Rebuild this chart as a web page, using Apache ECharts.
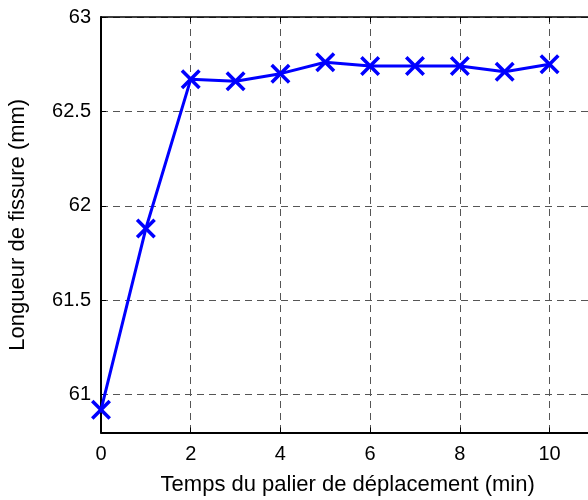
<!DOCTYPE html>
<html><head><meta charset="utf-8">
<script src="https://cdn.jsdelivr.net/npm/echarts@6/dist/echarts.min.js"></script>
<style>html,body{margin:0;padding:0;background:#fff}#c{width:588px;height:500px}</style>
</head><body><div id="c"></div>
<script>
const times = [0, 1, 2, 3, 4, 5, 6, 7, 8, 9, 10];
const lengths = [60.92, 61.88, 62.67, 62.66, 62.70, 62.76, 62.74, 62.74, 62.74, 62.71, 62.75];
const xTickLabels = [0, 2, 4, 6, 8, 10];
const yTickLabels = [61, 61.5, 62, 62.5, 63];
const xTitle = 'Temps du palier de déplacement (min)';
const yTitle = 'Longueur de fissure (mm)';

const FONT = '"Liberation Sans", Arial, sans-serif';
const gridDash = {color: '#555', width: 1, type: [7, 5]};
const xPath = 'path://M0,2.5 L2.5,0 L10,7.5 L17.5,0 L20,2.5 L12.5,10 L20,17.5 L17.5,20 L10,12.5 L2.5,20 L0,17.5 L7.5,10 Z';

const chart = echarts.init(document.getElementById('c'), null, {renderer: 'canvas'});
chart.setOption({
  animation: false,
  backgroundColor: '#fff',
  grid: {left: 101, top: 17, width: 493.4, height: 415.5, containLabel: false, outerBoundsMode: 'none'},
  xAxis: [{
    type: 'value', min: 0, max: 11, interval: 2, position: 'bottom',
    name: xTitle, nameLocation: 'middle', nameGap: 41,
    nameTextStyle: {fontFamily: FONT, fontSize: 22, color: '#000'},
    axisLine: {show: true, onZero: false, lineStyle: {color: '#000', width: 2}},
    axisTick: {show: true, inside: true, length: 5, lineStyle: {color: '#000', width: 1}},
    axisLabel: {fontFamily: FONT, fontSize: 20, color: '#000', margin: 12,
      formatter: v => xTickLabels.includes(v) ? String(v) : ''},
    splitLine: {show: true, lineStyle: gridDash}
  }, {
    type: 'value', min: 0, max: 11, interval: 2, position: 'top',
    axisLine: {show: true, onZero: false, lineStyle: {color: '#000', width: 1.5}},
    axisTick: {show: true, inside: true, length: 5, lineStyle: {color: '#000', width: 1}},
    axisLabel: {show: false}, splitLine: {show: false}
  }],
  yAxis: {
    type: 'value', min: 60.8, max: 63, minInterval: 0.5, maxInterval: 0.5,
    name: yTitle, nameLocation: 'middle', nameGap: 72,
    nameTextStyle: {fontFamily: FONT, fontSize: 22, color: '#000'},
    axisLine: {show: true, onZero: false, lineStyle: {color: '#000', width: 2}},
    axisTick: {show: true, inside: true, length: 5, lineStyle: {color: '#000', width: 1}},
    axisLabel: {fontFamily: FONT, fontSize: 20, color: '#000', margin: 10,
      formatter: v => yTickLabels.some(t => Math.abs(t - v) < 1e-9) ? String(v) : ''},
    splitLine: {show: true, lineStyle: gridDash}
  },
  series: [{
    type: 'line', xAxisIndex: 0,
    data: times.map((t, i) => [t, lengths[i]]),
    lineStyle: {color: '#0000ff', width: 3},
    itemStyle: {color: '#0000ff'},
    symbol: xPath, symbolSize: 20, showAllSymbol: true,
    clip: false, z: 5
  }]
});
</script></body></html>
